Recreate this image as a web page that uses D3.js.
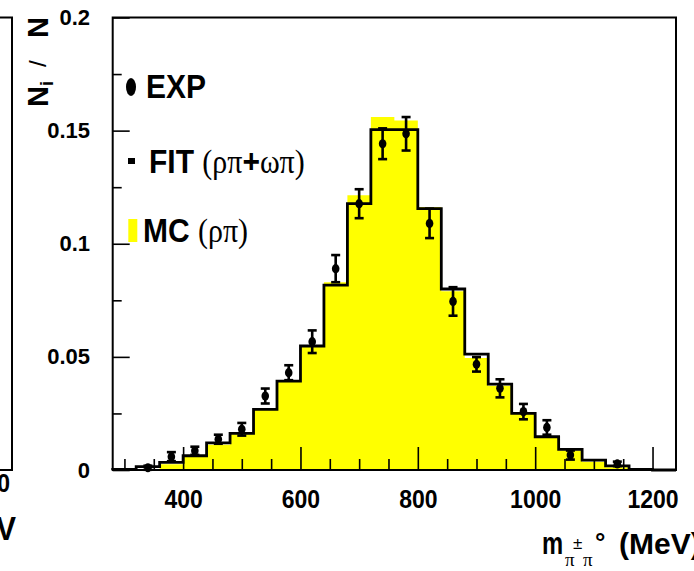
<!DOCTYPE html>
<html><head><meta charset="utf-8">
<script src="https://cdn.jsdelivr.net/npm/d3@7"></script>
<style>body{margin:0;background:#fff}svg{display:block}</style>
</head><body>
<svg id="c" width="694" height="571"></svg>
<script>
// ---- data ----
const binLow = [280,320,360,400,440,480,520,560,600,640,680,720,760,800,840,880,920,960,1000,1040,1080,1120,1160,1200];
const binWidth = 40;
const fitVals = [0.0003,0.0015,0.0034,0.0063,0.0120,0.0162,0.0268,0.0393,0.0548,0.0817,0.1177,0.1504,0.1504,0.1155,0.0800,0.0512,0.0380,0.0250,0.0147,0.0091,0.0044,0.0018,0.0003,0.0];
const mcVals  = [0,0,0.0025,0.0060,0.0112,0.0158,0.0265,0.0390,0.0550,0.0830,0.1214,0.1560,0.1545,0.1162,0.0790,0.0495,0.0372,0.0248,0.0143,0.0086,0.0036,0.0012,0,0];
const expX   = [340,380,420,460,500,540,580,620,660,700,740,780,820,860,900,940,980,1020,1060,1140];
const expY   = [0.0010,0.0059,0.0085,0.0136,0.0180,0.0327,0.0430,0.0567,0.0890,0.1177,0.1442,0.1486,0.1090,0.0745,0.0467,0.0361,0.0258,0.0188,0.0066,0.0027];
const expErr = [0.0009,0.0020,0.0018,0.0020,0.0028,0.0033,0.0033,0.0050,0.0060,0.0064,0.0068,0.0074,0.0065,0.0063,0.0032,0.0040,0.0034,0.0032,0.0020,0.0010];
const xMajor = [400,600,800,1000,1200];
const xMinor = [300,350,450,500,550,650,700,750,850,900,950,1050,1100,1150];
const yMajor = [0,0.05,0.1,0.15,0.2];
const yMinor = [0.025,0.075,0.125,0.175];
const yLabels = ["0","0.05","0.1","0.15","0.2"];

// ---- layout ----
const svg = d3.select("#c");
const L = 112.7, R = 676, T = 17.5, B = 470;
const x = d3.scaleLinear().domain([280,1240]).range([L,R]);
const y = d3.scaleLinear().domain([0,0.2]).range([B,T]);
const SANS = "'Liberation Sans', Arial, Helvetica, sans-serif";
const SERIF = "'Liberation Serif', 'Times New Roman', serif";

// left partial panel
svg.append("path").attr("d","M-5,17.5 H12 V470 H-5").attr("fill","none").attr("stroke","#000").attr("stroke-width",2);
svg.append("text").attr("transform","translate(10,492) scale(1,1.15)").attr("text-anchor","end").attr("font-family",SANS).attr("font-weight","bold").attr("font-size",23).text("1200");
svg.append("text").attr("transform","translate(16,540) scale(1,1.1)").attr("text-anchor","end").attr("font-family",SANS).attr("font-weight","bold").attr("font-size",30).text("(MeV");

// step path helper
function stepPath(vals){
  let d = `M${x(binLow[0])},${y(0)}`;
  vals.forEach((v,i)=>{ d += ` V${y(v)} H${x(binLow[i]+binWidth)}`; });
  d += ` V${y(0)}`;
  return d;
}
// MC yellow fill
svg.append("path").attr("d", stepPath(mcVals) + " Z").attr("fill","#ffff00").attr("stroke","none");
// FIT outline
svg.append("path").attr("d", stepPath(fitVals)).attr("fill","none").attr("stroke","#000").attr("stroke-width",2.8).attr("stroke-linejoin","miter");

// axes ticks
const gx = svg.append("g").attr("transform",`translate(0,${B})`);
gx.call(d3.axisBottom(x).tickValues(xMinor).tickSize(-11).tickFormat(""));
const gx2 = svg.append("g").attr("transform",`translate(0,${B})`);
gx2.call(d3.axisBottom(x).tickValues(xMajor).tickSize(-23).tickPadding(16.5).tickFormat(d3.format("d")));
const gy = svg.append("g").attr("transform",`translate(${L},0)`);
gy.call(d3.axisLeft(y).tickValues(yMinor).tickSize(-9).tickFormat(""));
const gy2 = svg.append("g").attr("transform",`translate(${L},0)`);
gy2.call(d3.axisLeft(y).tickValues(yMajor).tickSize(-17).tickPadding(22.7).tickFormat((d,i)=>yLabels[i]));
svg.selectAll(".domain").remove();
svg.selectAll(".tick line").attr("stroke","#000").attr("stroke-width",1.6);
svg.selectAll(".tick text").attr("font-family",SANS).attr("font-weight","bold").attr("font-size",23).attr("fill","#000");
gx2.selectAll(".tick text").attr("transform","scale(1,1.15)");
gy2.selectAll(".tick text").attr("font-size",22);

// EXP points with error bars
const ge = svg.append("g");
expX.forEach((m,i)=>{
  const cx = x(m), y0 = y(expY[i]-expErr[i]), y1 = y(expY[i]+expErr[i]);
  ge.append("line").attr("x1",cx).attr("x2",cx).attr("y1",y0).attr("y2",y1).attr("stroke","#000").attr("stroke-width",2.6);
  ge.append("line").attr("x1",cx-4.5).attr("x2",cx+4.5).attr("y1",y0).attr("y2",y0).attr("stroke","#000").attr("stroke-width",2.6);
  ge.append("line").attr("x1",cx-4.5).attr("x2",cx+4.5).attr("y1",y1).attr("y2",y1).attr("stroke","#000").attr("stroke-width",2.6);
  ge.append("ellipse").attr("cx",cx).attr("cy",y(expY[i])).attr("rx",3.8).attr("ry",4.6).attr("fill","#000");
});

// frame
svg.append("rect").attr("x",L).attr("y",T).attr("width",R-L).attr("height",B-T).attr("fill","none").attr("stroke","#000").attr("stroke-width",2);

// legend
svg.append("ellipse").attr("cx",131).attr("cy",87).attr("rx",5).attr("ry",9).attr("fill","#000");
svg.append("text").attr("transform","translate(146,98) scale(1,1.1)").attr("font-family",SANS).attr("font-weight","bold").attr("font-size",30).text("EXP");
svg.append("rect").attr("x",128).attr("y",158).attr("width",7).attr("height",6).attr("fill","#000");
const t2 = svg.append("text").attr("transform","translate(149,173) scale(1,1.1)").attr("font-family",SANS).attr("font-weight","bold").attr("font-size",30);
t2.append("tspan").text("FIT ");
t2.append("tspan").attr("font-family",SERIF).attr("font-weight","normal").text("(ρπ");
t2.append("tspan").text("+");
t2.append("tspan").attr("font-family",SERIF).attr("font-weight","normal").text("ωπ)");
svg.append("rect").attr("x",128.3).attr("y",219).attr("width",9).attr("height",23).attr("fill","#ffff00");
const t3 = svg.append("text").attr("transform","translate(143,242) scale(1,1.1)").attr("font-family",SANS).attr("font-weight","bold").attr("font-size",30);
t3.append("tspan").text("MC ");
t3.append("tspan").attr("font-family",SERIF).attr("font-weight","normal").text("(ρπ)");

// y title (rotated)
function rtext(px,py,size,weight,fam,txt){
  return svg.append("text").attr("transform",`translate(${px},${py}) rotate(-90)`).attr("font-family",fam).attr("font-weight",weight).attr("font-size",size).text(txt);
}
rtext(48,107,29,"bold",SANS,"N");
rtext(53,86,18,"bold",SANS,"i");
rtext(46,67,24,"normal",SANS,"/");
rtext(48,38,29,"bold",SANS,"N");

// x title
function t(px,py,size,weight,fam,txt){
  return svg.append("text").attr("x",px).attr("y",py).attr("font-family",fam).attr("font-weight",weight).attr("font-size",size).text(txt);
}
svg.append("text").attr("transform","translate(542,554) scale(0.82,1.1)").attr("font-family",SANS).attr("font-weight","bold").attr("font-size",29).text("m");
t(565,566,19,"normal",SERIF,"π");
t(573,549,17,"normal",SANS,"±");
t(583,566,19,"normal",SERIF,"π");
t(595,551,26,"bold",SANS,"°");
t(619,554,30,"bold",SANS,"(MeV)");
</script>
</body></html>
